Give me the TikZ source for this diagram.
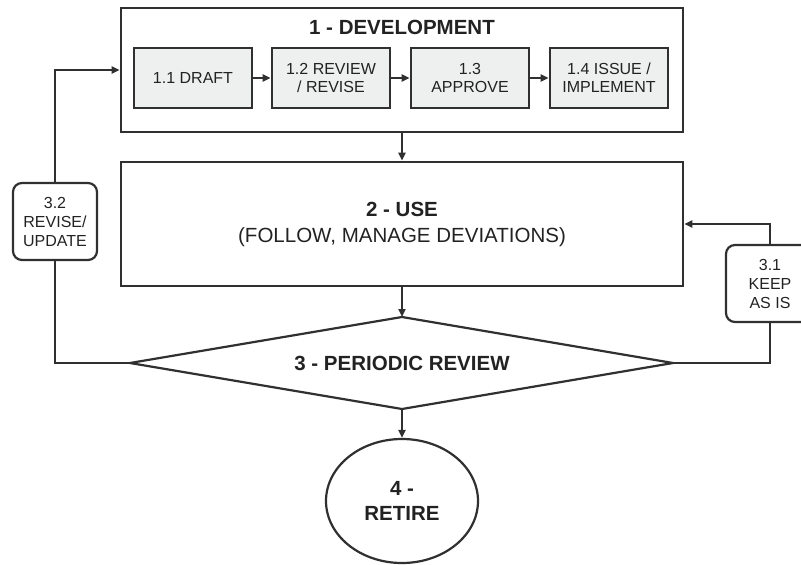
\documentclass[tikz,border=0pt]{standalone}
\usepackage{fontspec}
\setmainfont{Liberation Sans}
\usetikzlibrary{shapes.geometric,arrows.meta}
\definecolor{ln}{HTML}{303030}
\definecolor{tx}{HTML}{222222}
\definecolor{bx}{HTML}{EEF0F0}
\tikzset{
  conn/.style={draw=ln,line width=2.2pt},
  arr/.style={conn,-{Triangle[length=8pt,width=7pt]}},
  bigbox/.style={draw=ln,line width=2.6pt,rectangle,inner sep=0pt},
  subbox/.style={draw=ln,line width=2.8pt,fill=bx,rectangle,inner sep=0pt,
    minimum width=118pt,minimum height=60pt,align=center,text=tx,
    font=\fontsize{16}{18}\selectfont},
  sidebox/.style={draw=ln,line width=2.2pt,rectangle,rounded corners=9pt,inner sep=0pt,
    minimum height=77pt,align=center,text=tx,font=\fontsize{16}{19}\selectfont},
  bigtxt/.style={text=tx,align=center,font=\fontsize{20.5}{26}\selectfont}
}
\begin{document}
\begin{tikzpicture}[x=1pt,y=-1pt]
\useasboundingbox (0,0) rectangle (801,565);
\clip (0,0) rectangle (801,565);
% 1 - development
\node[bigbox,minimum width=562pt,minimum height=124pt] (dev) at (402,70) {};
\node[bigtxt,font=\fontsize{20.5}{24}\selectfont\bfseries] (devt) at (402,27) {1 - DEVELOPMENT};
\node[subbox] (d1) at (193,78) {1.1 DRAFT};
\node[subbox] (d2) at (331,78) {1.2 REVIEW\\/ REVISE};
\node[subbox] (d3) at (470,78) {1.3\\APPROVE};
\node[subbox] (d4) at (609,78) {1.4 ISSUE /\\IMPLEMENT};
\draw[arr] (d1) -- (d2);
\draw[arr] (d2) -- (d3);
\draw[arr] (d3) -- (d4);
% 2 - use
\node[bigbox,minimum width=562pt,minimum height=124pt,bigtxt] (use) at (402,224)
  {\textbf{2 - USE}\\(FOLLOW, MANAGE DEVIATIONS)};
% 3 - periodic review (diamond)
\coordinate (rt) at (402,317);
\coordinate (rr) at (673,363);
\coordinate (rb) at (402,409);
\coordinate (rl) at (130,363);
\draw[conn,line join=miter] (rt) -- (rr) -- (rb) -- (rl) -- cycle;
\node[bigtxt,font=\fontsize{20.5}{24}\selectfont\bfseries] (rev) at (402,363) {3 - PERIODIC REVIEW};
% 4 - retire
\node[ellipse,draw=ln,line width=2.2pt,inner sep=0pt,minimum width=152pt,minimum height=124pt,
  bigtxt,font=\fontsize{20.5}{25}\selectfont\bfseries] (ret) at (402,501) {4 -\\RETIRE};
% side boxes
\node[sidebox,minimum width=84pt] (k32) at (55,221.5) {3.2\\REVISE/\\UPDATE};
\node[sidebox,minimum width=88pt] (k31) at (770,283.5) {3.1\\KEEP\\AS IS};
% connectors
\draw[arr] (dev.south) -- (use.north);
\draw[arr] (use.south) -- (rt);
\draw[arr] (rb) -- (ret.north);
\draw[conn] (rl) -| (k32.south);
\draw[arr] (k32.north) |- (dev.west);
\draw[conn] (rr) -| (k31.south);
\draw[arr] (k31.north) |- (use.east);
\end{tikzpicture}
\end{document}
